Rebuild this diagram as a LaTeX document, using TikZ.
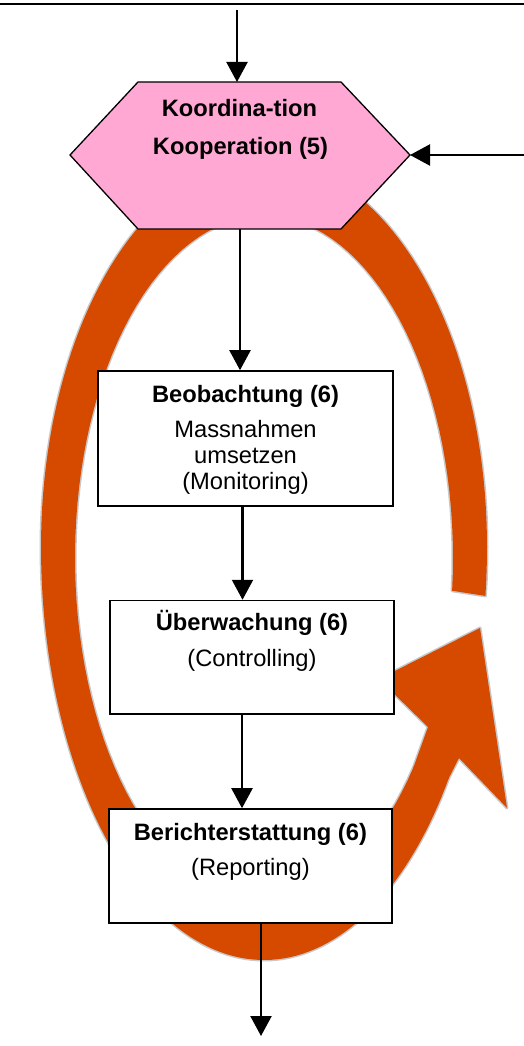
\documentclass[tikz,border=0pt]{standalone}
\usepackage{fontspec}
\setmainfont{Liberation Sans}
\usepackage{xcolor}
\usetikzlibrary{arrows.meta, calc}
\definecolor{arancio}{RGB}{214,74,0}
\definecolor{rosa}{RGB}{255,168,212}
\definecolor{ombra}{RGB}{200,200,200}
\newcommand{\testo}{\fontsize{23.7}{28}\selectfont}

\begin{document}
\begin{tikzpicture}[x=1pt, y=-1pt,
    freccia/.style={-{Triangle[width=21pt, length=20pt]}, line width=2.2pt},
    scatola/.style={draw, line width=1.6pt, fill=white, inner sep=0pt},
    titolo/.style={font=\testo\bfseries, anchor=base, inner sep=0pt},
    riga/.style={font=\testo, anchor=base, inner sep=0pt}]
    \useasboundingbox (0,0) rectangle (524,1046);
    %Parametri
    \pgfmathsetmacro{\bordo}{3}
    \pgfmathsetmacro{\cx}{264}
    % bordo esterno
    \pgfmathsetmacro{\ey}{547}
    \pgfmathsetmacro{\ea}{223}
    \pgfmathsetmacro{\esu}{387}
    \pgfmathsetmacro{\egiu}{413}
    % bordo interno
    \pgfmathsetmacro{\iy}{558}
    \pgfmathsetmacro{\ia}{189}
    \pgfmathsetmacro{\ib}{342}
    % Linea in alto
    \draw[line width=2.3pt] (0,3.8) -- (524,3.8);
    % Freccia circolare: bordo esterno, poi bordo interno
    \fill[arancio, preaction={draw=ombra, line width=\bordo pt, line join=round}, variable=\t, samples=90]
        plot[domain=6.8:0, samples=4] ({\cx+\ea*cos(\t)},{\ey+\egiu*sin(\t)})
        -- plot[domain=0:-180] ({\cx+\ea*cos(\t)},{\ey+\esu*sin(\t)})
        -- plot[domain=180:34] ({\cx+\ea*cos(\t)},{\ey+\egiu*sin(\t)})
        -- plot[domain=37.7:365.5, samples=120] ({\cx+\ia*cos(\t)},{\iy+\ib*sin(\t)})
        -- cycle;
    % Punta della freccia
    \coordinate (baseE) at ({\cx+\ea*cos(34)},{\ey+\egiu*sin(34)});
    \coordinate (baseI) at ({\cx+\ia*cos(37.7)},{\iy+\ib*sin(37.7)});
    \coordinate (puntaT) at (480,628);
    \fill[arancio, preaction={draw=ombra, line width=\bordo pt, line join=round}]
        (baseI) -- (428,727) -- (379,679) -- (puntaT) -- (507,808) -- (459,758) -- (baseE);
    % copre la giunzione
    \draw[arancio, line width=2.5pt] (baseI) -- (baseE);
    % Esagono
    \filldraw[fill=rosa, draw=black, line width=1.3pt] (70,155) -- (138,82) -- (341,82) -- (410,155) -- (341,229) -- (138,229) -- cycle;
    \coordinate (esaN) at (237,82);
    \coordinate (esaE) at (410,155);
    \coordinate (esaS) at (240,229);
    \node[titolo] (esaT1) at (239.5,117) {Koordina-tion};
    \node[titolo] (esaT2) at (240.5,154) {Kooperation (5)};
    % Scatole
    \node[scatola, minimum width=295pt, minimum height=135pt] (beob) at (245.5,438.5) {};
    \node[titolo] (beobT) at ($(beob.north)+(0,32)$) {Beobachtung (6)};
    \node[riga] (beob1) at ($(beob.north)+(0,67)$) {Massnahmen};
    \node[riga] (beob2) at ($(beob.north)+(0,93)$) {umsetzen};
    \node[riga] (beob3) at ($(beob.north)+(0,119)$) {(Monitoring)};
    \node[scatola, minimum width=284pt, minimum height=113.5pt] (ueber) at (252,657.3) {};
    \node[titolo] (ueberT) at ($(ueber.north)+(0,31)$) {Überwachung (6)};
    \node[riga] (ueber1) at ($(ueber.north)+(0,67)$) {(Controlling)};
    \node[scatola, minimum width=283.3pt, minimum height=114pt] (bericht) at (250.4,866) {};
    \node[titolo] (berichtT) at ($(bericht.north)+(0,32.7)$) {Berichterstattung (6)};
    \node[riga] (bericht1) at ($(bericht.north)+(0,67)$) {(Reporting)};
    % Frecce
    \coordinate (ingresso) at (237,10);
    \coordinate (laterale) at (524,155);
    \coordinate (uscita) at (261,1036);
    \coordinate (beobS) at ($(beob.south)+(-3,0)$);
    \coordinate (ueberS) at ($(ueber.south)+(-10,0)$);
    \coordinate (berichtS) at ($(bericht.south)+(10.6,0)$);
    \draw[freccia] (ingresso) -- (esaN);
    \draw[freccia] (laterale) -- (esaE);
    \draw[freccia] (esaS) -- (esaS |- beob.north);
    \draw[freccia] (beobS) -- (beobS |- ueber.north);
    \draw[freccia] (ueberS) -- (ueberS |- bericht.north);
    \draw[freccia] (berichtS) -- (uscita);
\end{tikzpicture}
\end{document}
